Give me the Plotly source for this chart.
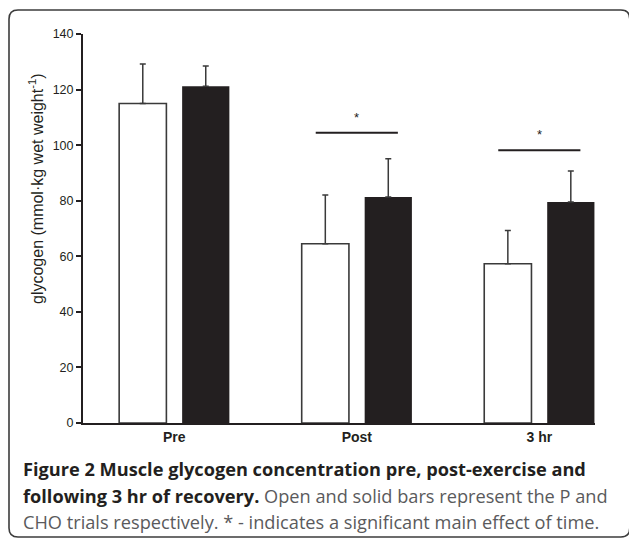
import plotly.graph_objects as go

# ---- data ----
categories = ["Pre", "Post", "3 hr"]
p_values = [115, 64.5, 57.3]
cho_values = [121.2, 81.3, 79.5]
p_errors = [14.2, 17.6, 12.0]
cho_errors = [7.3, 13.8, 11.2]
sig_categories = ["Post", "3 hr"]
sig_levels = [104.5, 98.2]
y_ticks = [0, 20, 40, 60, 80, 100, 120, 140]

# ---- geometry helpers (page pixel -> paper) ----
W, H = 629, 540
L, R, T, B = 83, 595, 34, 423


def xp(px):
    return (px - L) / (R - L)


def yp(py):
    return (B - py) / (B - T)


DARK = "#231f20"
GREY = "#5a5a5c"

fig = go.Figure()
fig.add_trace(go.Bar(
    x=categories, y=p_values, name="P",
    marker=dict(color="white", line=dict(color="#3a3a3a", width=1.6)),
    error_y=dict(type="data", array=p_errors, arrayminus=[0] * len(p_errors),
                 symmetric=False, color="#3a3a3a", thickness=1.5, width=3),
))
fig.add_trace(go.Bar(
    x=categories, y=cho_values, name="CHO",
    marker=dict(color=DARK, line=dict(color=DARK, width=0)),
    error_y=dict(type="data", array=cho_errors, arrayminus=[0] * len(cho_errors),
                 symmetric=False, color="#3a3a3a", thickness=1.5, width=3),
))

shapes = []
annotations = []
for cat, lvl in zip(sig_categories, sig_levels):
    i = categories.index(cat)
    shapes.append(dict(type="line", xref="x", yref="y", x0=i - 0.225, x1=i + 0.225,
                       y0=lvl, y1=lvl, line=dict(color=DARK, width=2)))
    annotations.append(dict(xref="x", yref="y", x=i, y=lvl, text="*", showarrow=False,
                            yanchor="bottom", yshift=6,
                            font=dict(family="Arial", size=13, color=DARK)))

# rounded border (page pixels)
x0, y0, x1, y1, r = 9, 10, 629.8, 537, 9
path = (f"M {xp(x0 + r)},{yp(y0)} L {xp(x1 - r)},{yp(y0)} "
        f"Q {xp(x1)},{yp(y0)} {xp(x1)},{yp(y0 + r)} L {xp(x1)},{yp(y1 - r)} "
        f"Q {xp(x1)},{yp(y1)} {xp(x1 - r)},{yp(y1)} L {xp(x0 + r)},{yp(y1)} "
        f"Q {xp(x0)},{yp(y1)} {xp(x0)},{yp(y1 - r)} L {xp(x0)},{yp(y0 + r)} "
        f"Q {xp(x0)},{yp(y0)} {xp(x0 + r)},{yp(y0)} Z")
shapes.append(dict(type="path", xref="paper", yref="paper", path=path,
                   line=dict(color="#3c3c3c", width=1.6), layer="below"))

# y-axis title
annotations.append(dict(xref="paper", yref="paper", x=xp(36), y=yp(189),
                        text="glycogen (mmol·kg wet weight<sup>-1</sup>)",
                        textangle=-90, showarrow=False, xanchor="center", yanchor="middle",
                        font=dict(family="Arial", size=16, color=DARK)))

cap_font = dict(family="Open Sans", size=18.2, color=DARK)
caption_lines = [
    "<b>Figure 2 Muscle glycogen concentration pre, post-exercise and</b>",
    f"<b>following 3 hr of recovery.</b><span style='color:{GREY}'> Open and solid bars represent the P and</span>",
    f"<span style='color:{GREY}'>CHO trials respectively. * - indicates a significant main effect of time.</span>",
]
for line, py in zip(caption_lines, [469, 495.5, 522]):
    annotations.append(dict(xref="paper", yref="paper", x=xp(21), y=yp(py), text=line,
                            showarrow=False, xanchor="left", yanchor="middle",
                            align="left", font=cap_font))

fig.update_layout(
    width=W, height=H,
    margin=dict(l=L, r=W - R, t=T, b=H - B, pad=0),
    paper_bgcolor="white", plot_bgcolor="white",
    barmode="group", bargap=0.31, bargroupgap=0.25,
    showlegend=False, hovermode=False,
    shapes=shapes, annotations=annotations,
    font=dict(family="Arial", color=DARK),
    xaxis=dict(type="category", range=[-0.5, 2.305], showline=True, linewidth=2,
               linecolor=DARK, ticks="", showgrid=False, zeroline=False,
               tickfont=dict(family="Arial", size=14, color=DARK, weight="bold")),
    yaxis=dict(range=[0, 140], tickvals=y_ticks, showline=True, linewidth=2,
               linecolor=DARK, ticks="outside", ticklen=5, tickwidth=1.5,
               tickcolor=DARK, showgrid=False, zeroline=False,
               tickfont=dict(family="Arial", size=12.5, color=DARK)),
)

fig.write_html(
    "out.html",
    config={"displayModeBar": False},
    post_script="document.body.style.margin='0';document.body.style.overflow='hidden';",
)
